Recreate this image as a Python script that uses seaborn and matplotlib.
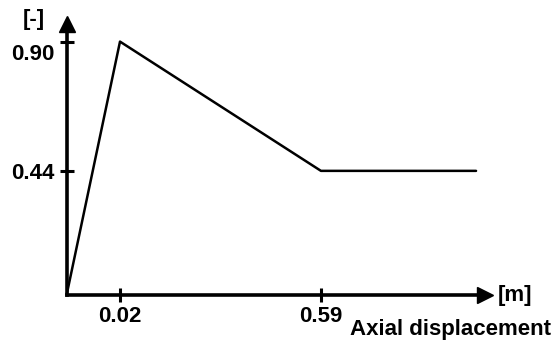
import numpy as np
import pandas as pd
import matplotlib
matplotlib.use("Agg")
import matplotlib.pyplot as plt
import matplotlib.transforms as mtransforms
import seaborn as sns

# Force-displacement law (schematic, normalised)
displacement = [0.0, 0.02, 0.59, 1.03]
force = [0.0, 0.90, 0.44, 0.44]
x_ticks = [0.02, 0.59]
x_tick_labels = ["0.02", "0.59"]
y_ticks = [0.90, 0.44]
y_tick_labels = ["0.90", "0.44"]

# Schematic (non-proportional) displacement axis: piecewise linear scale
x_break = np.array([0.0, 0.02, 0.59])
t_break = np.array([0.0, 1.0, 4.77])
slope_end = (t_break[-1] - t_break[-2]) / (x_break[-1] - x_break[-2])


def fwd(x):
    x = np.asarray(x, dtype=float)
    return np.where(x <= x_break[-1], np.interp(x, x_break, t_break),
                    t_break[-1] + (x - x_break[-1]) * slope_end)


def inv(t):
    t = np.asarray(t, dtype=float)
    return np.where(t <= t_break[-1], np.interp(t, t_break, x_break),
                    x_break[-1] + (t - t_break[-1]) / slope_end)


sns.set_theme(style="white")
plt.rcParams["font.family"] = ["Liberation Sans", "DejaVu Sans"]
plt.rcParams["font.weight"] = "bold"
plt.rcParams["text.color"] = "black"
plt.rcParams["xtick.color"] = "black"
plt.rcParams["ytick.color"] = "black"

W, H = 557, 345
fig = plt.figure(figsize=(W / 100, H / 100), dpi=100)
x0, y0 = 66.7, 294.5
x1, y1 = 485.0, 23.5
ax = fig.add_axes([x0 / W, (H - y0) / H, (x1 - x0) / W, (y0 - y1) / H])

df = pd.DataFrame({"displacement": displacement, "force": force})
ax.set_xscale("function", functions=(fwd, inv))
sns.lineplot(data=df, x="displacement", y="force", color="black",
             linewidth=1.8, sort=False, ax=ax, clip_on=False)

t_right = (x1 - x0) / 53.3
ax.set_xlim(0, float(inv(t_right)))
ax.set_ylim(0, (y0 - y1) / 281.0)

for side in ("top", "right"):
    ax.spines[side].set_visible(False)
for side in ("left", "bottom"):
    ax.spines[side].set_linewidth(2.6)
    ax.spines[side].set_color("black")

# arrow heads at the axis ends
ax.plot(1, 0, ">", color="black", markersize=12, transform=ax.transAxes, clip_on=False)
ax.plot(0, 1, "^", color="black", markersize=12, transform=ax.transAxes, clip_on=False)

ax.set_xticks(x_ticks)
ax.set_xticklabels(x_tick_labels)
ax.set_yticks(y_ticks)
ax.set_yticklabels(y_tick_labels)
ax.minorticks_off()
ax.tick_params(axis="both", which="major", bottom=True, left=True,
               direction="inout", length=10, width=2.2, color="black",
               labelsize=16, labelcolor="black")
ax.tick_params(axis="x", pad=3)
ax.tick_params(axis="y", pad=4)
for lab in ax.get_xticklabels() + ax.get_yticklabels():
    lab.set_fontweight("bold")

# the top value label sits slightly below its tick
shift = mtransforms.ScaledTranslation(0, -10 / 100, fig.dpi_scale_trans)
ylabs = ax.get_yticklabels()
ylabs[0].set_transform(ylabs[0].get_transform() + shift)

ax.set_xlabel("")
ax.set_ylabel("")

fig.text(34 / W, 1 - 19 / H, "[-]", ha="center", va="center", fontsize=16,
         fontweight="bold", color="black")
fig.text(498 / W, 1 - 295 / H, "[m]", ha="left", va="center", fontsize=16,
         fontweight="bold", color="black")
fig.text(350 / W, 1 - 335 / H, "Axial displacement", ha="left", va="baseline",
         fontsize=16, fontweight="bold", color="black")

fig.savefig("out.png", dpi=100)
